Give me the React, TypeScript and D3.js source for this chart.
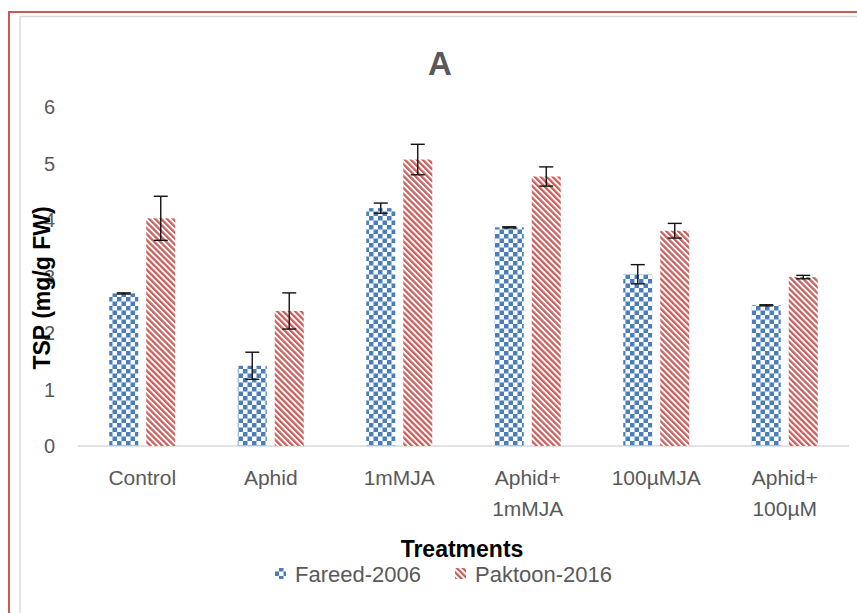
import * as d3 from "d3";
import { useEffect, useRef } from "react";

const width = 857;
const height = 613;

const categories = [
  ["Control"],
  ["Aphid"],
  ["1mMJA"],
  ["Aphid+", "1mMJA"],
  ["100µMJA"],
  ["Aphid+", "100µM"],
];
const seriesNames = ["Fareed-2006", "Paktoon-2016"];
const fareed = [2.7, 1.42, 4.21, 3.87, 3.04, 2.49];
const fareedErr = [0.01, 0.24, 0.09, 0.01, 0.17, 0.01];
const paktoon = [4.03, 2.39, 5.07, 4.77, 3.81, 2.99];
const paktoonErr = [0.39, 0.32, 0.27, 0.17, 0.13, 0.03];
const yTicks = [0, 1, 2, 3, 4, 5, 6];

const font = "'Liberation Sans', Arial, sans-serif";

const App = () => {
  const ref = useRef<SVGSVGElement>(null);

  useEffect(() => {
    const svg = d3.select(ref.current);
    svg.selectAll("*").remove();

    const defs = svg.append("defs");
    const checker = defs
      .append("pattern")
      .attr("id", "checker")
      .attr("patternUnits", "userSpaceOnUse")
      .attr("width", 9)
      .attr("height", 9);
    checker.append("rect").attr("width", 9).attr("height", 9).attr("fill", "#fff");
    checker.append("rect").attr("width", 4.5).attr("height", 4.5).attr("fill", "#4a7ebb");
    checker
      .append("rect")
      .attr("x", 4.5)
      .attr("y", 4.5)
      .attr("width", 4.5)
      .attr("height", 4.5)
      .attr("fill", "#4a7ebb");

    const stripes = defs
      .append("pattern")
      .attr("id", "stripes")
      .attr("patternUnits", "userSpaceOnUse")
      .attr("width", 4.2)
      .attr("height", 8)
      .attr("patternTransform", "rotate(-45)");
    stripes.append("rect").attr("width", 4.2).attr("height", 8).attr("fill", "#fff");
    stripes.append("rect").attr("width", 2.3).attr("height", 8).attr("fill", "#c9605d");

    // chart frame
    svg
      .append("rect")
      .attr("x", 9)
      .attr("y", 12)
      .attr("width", 900)
      .attr("height", 700)
      .attr("fill", "none")
      .attr("stroke", "#c65a57")
      .attr("stroke-width", 2);
    svg
      .append("rect")
      .attr("x", 20)
      .attr("y", 16.5)
      .attr("width", 900)
      .attr("height", 700)
      .attr("fill", "none")
      .attr("stroke", "#d9d9d9")
      .attr("stroke-width", 1.5);

    const x0 = d3
      .scaleBand()
      .domain(categories.map((c) => c.join(" ")))
      .range([78, 849]);
    const x1 = d3
      .scaleBand()
      .domain(seriesNames)
      .range([0, 66])
      .paddingInner(0.216);
    const y = d3.scaleLinear().domain([0, 6]).range([446, 107]);

    const off = (x0.bandwidth() - 66) / 2;

    // y tick labels
    svg
      .append("g")
      .selectAll("text")
      .data(yTicks)
      .enter()
      .append("text")
      .attr("x", 55)
      .attr("y", (d) => y(d))
      .attr("dy", "0.36em")
      .attr("text-anchor", "end")
      .attr("font-family", font)
      .attr("font-size", 20)
      .attr("fill", "#595959")
      .text((d) => d);

    // baseline
    svg
      .append("line")
      .attr("x1", 78)
      .attr("x2", 849)
      .attr("y1", y(0))
      .attr("y2", y(0))
      .attr("stroke", "#d9d9d9")
      .attr("stroke-width", 1.5);

    const series = [
      { name: seriesNames[0], values: fareed, errs: fareedErr, fill: "url(#checker)" },
      { name: seriesNames[1], values: paktoon, errs: paktoonErr, fill: "url(#stripes)" },
    ];

    series.forEach((s) => {
      const g = svg.append("g");
      const keyed = s.values.map((v, i) => ({ v, e: s.errs[i], cat: categories[i].join(" ") }));
      g.selectAll("rect")
        .data(keyed)
        .enter()
        .append("rect")
        .attr("x", (d) => x0(d.cat)! + off + x1(s.name)!)
        .attr("y", (d) => y(d.v))
        .attr("width", x1.bandwidth())
        .attr("height", (d) => y(0) - y(d.v))
        .attr("fill", s.fill);

      const eb = g
        .selectAll("g.err")
        .data(keyed)
        .enter()
        .append("g")
        .attr("stroke", "#111")
        .attr("stroke-width", 1.4)
        .attr("transform", (d) => `translate(${x0(d.cat)! + off + x1(s.name)! + x1.bandwidth() / 2},0)`);
      eb.append("line")
        .attr("y1", (d) => y(d.v + d.e))
        .attr("y2", (d) => y(d.v - d.e));
      eb.append("line")
        .attr("x1", -7)
        .attr("x2", 7)
        .attr("y1", (d) => y(d.v + d.e))
        .attr("y2", (d) => y(d.v + d.e));
      eb.append("line")
        .attr("x1", -7)
        .attr("x2", 7)
        .attr("y1", (d) => y(d.v - d.e))
        .attr("y2", (d) => y(d.v - d.e));
    });

    // category labels
    const cl = svg
      .append("g")
      .selectAll("text")
      .data(categories)
      .enter()
      .append("text")
      .attr("x", (d) => x0(d.join(" "))! + x0.bandwidth() / 2)
      .attr("y", 485)
      .attr("text-anchor", "middle")
      .attr("font-family", font)
      .attr("font-size", 21)
      .attr("fill", "#595959");
    cl.selectAll("tspan")
      .data((d) => d)
      .enter()
      .append("tspan")
      .attr("x", function () {
        return (this.parentNode as SVGTextElement).getAttribute("x");
      })
      .attr("dy", (d, i) => (i === 0 ? 0 : 31))
      .text((d) => d);

    // title
    svg
      .append("text")
      .attr("x", 440)
      .attr("y", 75)
      .attr("text-anchor", "middle")
      .attr("font-family", font)
      .attr("font-size", 33)
      .attr("font-weight", "bold")
      .attr("fill", "#595959")
      .text("A");

    // axis titles
    svg
      .append("text")
      .attr("transform", "translate(50,288) rotate(-90)")
      .attr("text-anchor", "middle")
      .attr("font-family", font)
      .attr("font-size", 23)
      .attr("font-weight", "bold")
      .attr("fill", "#000")
      .text("TSP (mg/g FW)");
    svg
      .append("text")
      .attr("x", 462)
      .attr("y", 557)
      .attr("text-anchor", "middle")
      .attr("font-family", font)
      .attr("font-size", 23)
      .attr("font-weight", "bold")
      .attr("fill", "#000")
      .text("Treatments");

    // legend
    const legendX = [275, 455];
    series.forEach((s, i) => {
      svg
        .append("rect")
        .attr("x", legendX[i])
        .attr("y", 568)
        .attr("width", 11)
        .attr("height", 11)
        .attr("fill", s.fill);
      svg
        .append("text")
        .attr("x", legendX[i] + 20)
        .attr("y", 582)
        .attr("font-family", font)
        .attr("font-size", 22)
        .attr("fill", "#595959")
        .text(s.name);
    });
  }, []);

  return (
    <div style={{ position: "absolute", left: 0, top: 0 }}>
      <svg ref={ref} width={width} height={height} style={{ display: "block", background: "#fff" }} />
    </div>
  );
};
export default App;
